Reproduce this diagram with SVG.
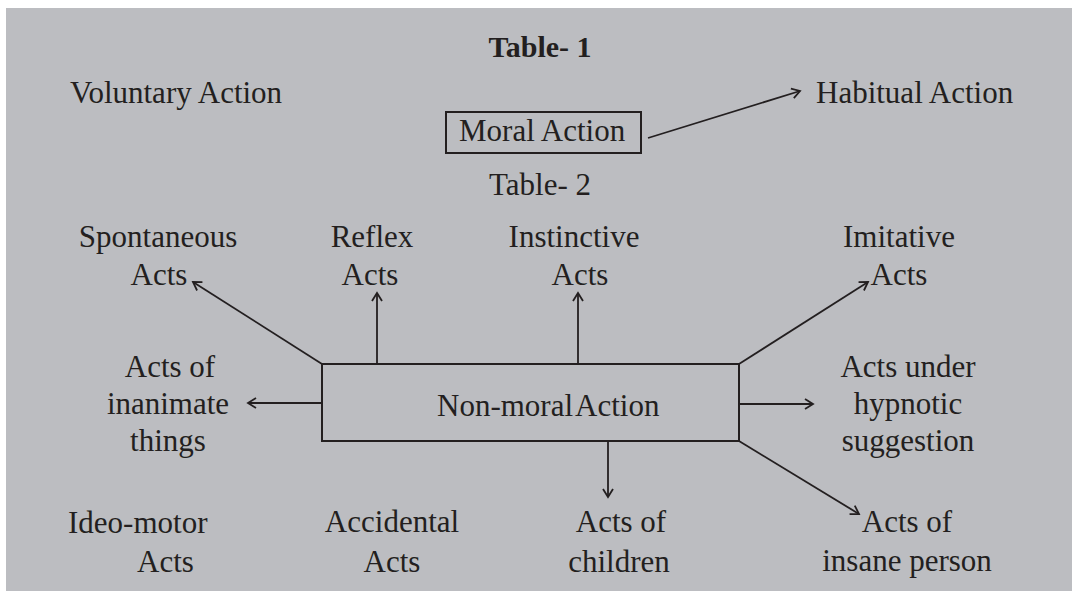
<svg xmlns="http://www.w3.org/2000/svg" width="1072" height="591" viewBox="0 0 1072 591">
<style>
text{font-family:"Liberation Serif","Times New Roman",serif;font-size:31px;fill:#231f20}
.c{text-anchor:middle}
.b{font-weight:bold;font-size:30px}
.box{fill:none;stroke:#231f20;stroke-width:2}
.ln{fill:none;stroke:#231f20;stroke-width:1.8;marker-end:url(#ah)}
</style>
<defs>
<marker id="ah" markerUnits="userSpaceOnUse" markerWidth="14" markerHeight="14" refX="11" refY="7" orient="auto">
<path d="M3,2 L11,7 L3,12" fill="none" stroke="#231f20" stroke-width="1.8"/>
</marker>
</defs>
<rect x="6" y="8" width="1066" height="583" fill="#bcbdc1"/>
<g id="title1"><text class="c b" x="540" y="57">Table- 1</text></g>
<g id="voluntary"><text x="70" y="103">Voluntary Action</text></g>
<g id="habitual"><text x="816" y="103">Habitual Action</text></g>
<g id="moral"><rect class="box" x="446" y="112" width="195" height="41"/><text x="459" y="141">Moral Action</text></g>
<g id="title2"><text class="c" x="540" y="195">Table- 2</text></g>
<g id="nonmoral"><rect class="box" x="322" y="364" width="417" height="77"/><text x="437" y="416" word-spacing="-4">Non-moral Action</text></g>
<g id="spontaneous"><text class="c" x="158" y="247">Spontaneous</text><text class="c" x="159" y="285">Acts</text></g>
<g id="reflex"><text class="c" x="372" y="247">Reflex</text><text class="c" x="370" y="285">Acts</text></g>
<g id="instinctive"><text class="c" x="574" y="247">Instinctive</text><text class="c" x="580" y="285">Acts</text></g>
<g id="imitative"><text class="c" x="899" y="247">Imitative</text><text class="c" x="899" y="285">Acts</text></g>
<g id="inanimate"><text class="c" x="170" y="377">Acts of</text><text class="c" x="168" y="414">inanimate</text><text class="c" x="168" y="451">things</text></g>
<g id="hypnotic"><text class="c" x="908" y="377">Acts under</text><text class="c" x="908" y="414">hypnotic</text><text class="c" x="908" y="451">suggestion</text></g>
<g id="ideomotor"><text x="68" y="533">Ideo-motor</text><text x="137" y="572">Acts</text></g>
<g id="accidental"><text class="c" x="392" y="532">Accidental</text><text class="c" x="392" y="572">Acts</text></g>
<g id="children"><text class="c" x="621" y="532">Acts of</text><text class="c" x="619" y="572">children</text></g>
<g id="insane"><text class="c" x="907" y="532">Acts of</text><text class="c" x="907" y="571">insane person</text></g>
<g id="connectors">
<line class="ln" x1="648" y1="138" x2="800" y2="91"/>
<line class="ln" x1="322" y1="364" x2="193" y2="282"/>
<line class="ln" x1="377" y1="364" x2="377" y2="293"/>
<line class="ln" x1="578" y1="364" x2="578" y2="293"/>
<line class="ln" x1="739" y1="364" x2="868" y2="282"/>
<line class="ln" x1="321" y1="403" x2="248" y2="403"/>
<line class="ln" x1="739" y1="404" x2="813" y2="404"/>
<line class="ln" x1="608" y1="441" x2="608" y2="497"/>
<line class="ln" x1="739" y1="441" x2="859" y2="514"/>
</g>
</svg>
